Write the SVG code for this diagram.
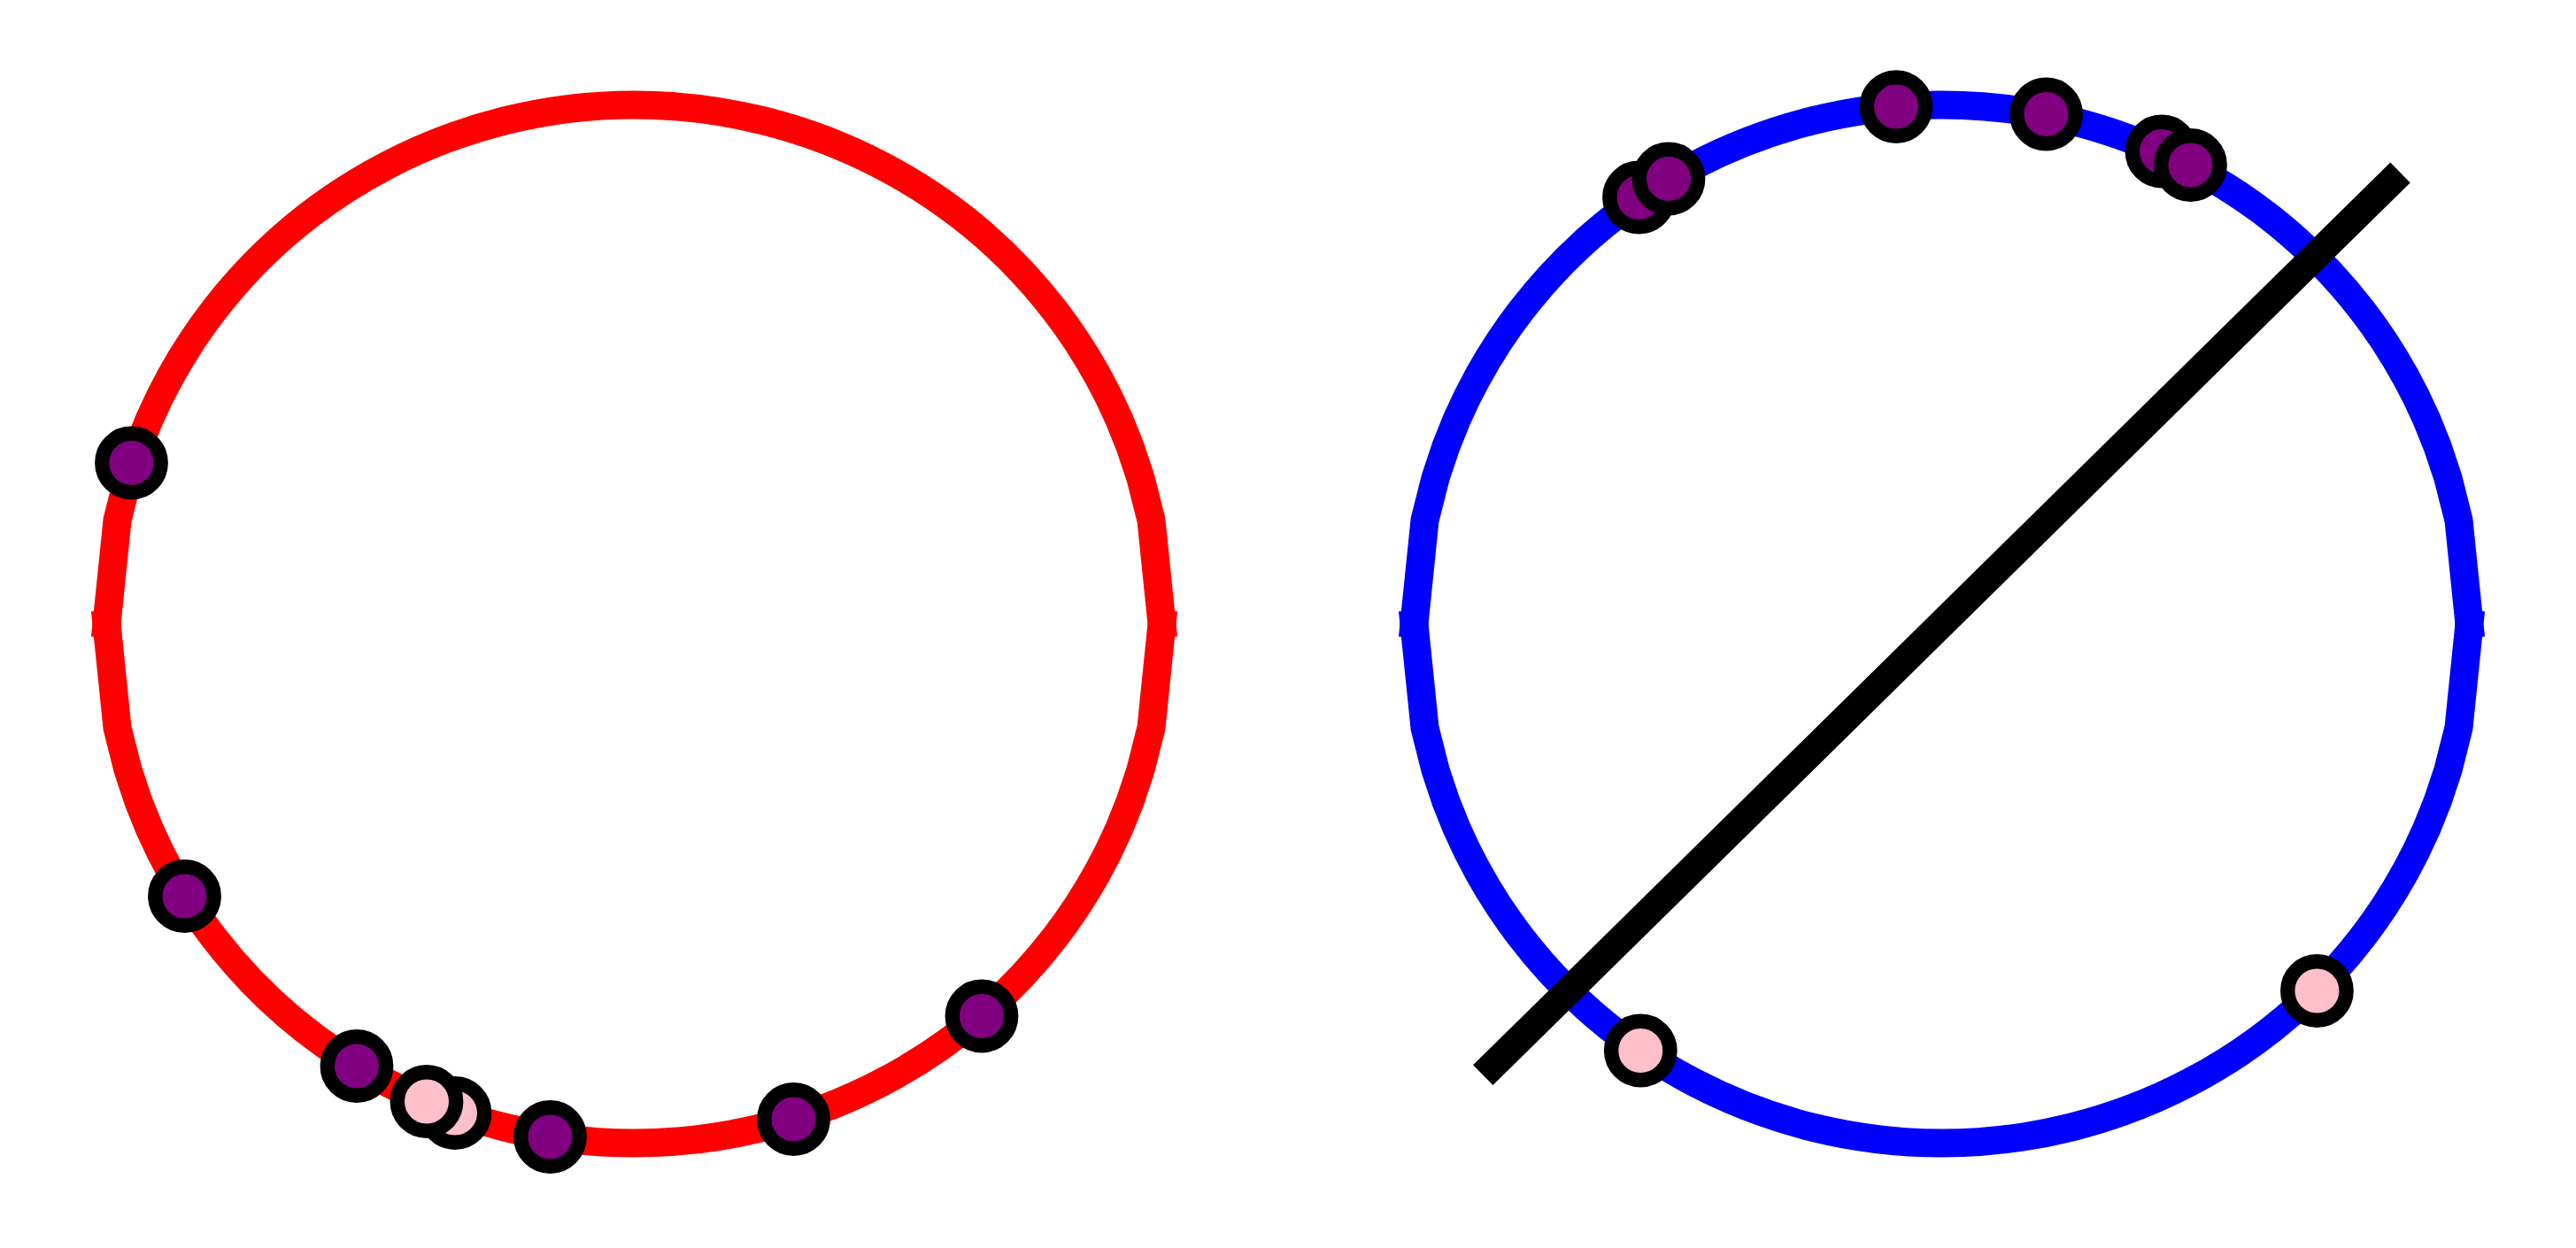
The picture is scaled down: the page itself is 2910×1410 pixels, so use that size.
<svg xmlns="http://www.w3.org/2000/svg" width="2910" height="1410" viewBox="0 0 2910 1410">
<style>
.arc{fill:none;stroke-width:32;stroke-linecap:square;stroke-linejoin:round}
.red{stroke:#FF0000}
.blue{stroke:#0000FF}
.mk{stroke:#000000;stroke-width:16.4}
.pu{fill:#800080}
.pk{fill:#FFC0CB}
.bar{stroke:#000000;stroke-width:32;stroke-linecap:butt;fill:none}
</style>
<defs>
<path id="upper" d="M -596 0 L -583.96 -117.29 L -571.92 -165.03 L -559.88 -201.08 L -547.84 -230.97 L -535.8 -256.87 L -523.76 -279.89 L -511.72 -300.68 L -499.68 -319.69 L -487.64 -337.22 L -475.6 -353.47 A 596 586.5 0 0 1 475.6 -353.47 L 487.64 -337.22 L 499.68 -319.69 L 511.72 -300.68 L 523.76 -279.89 L 535.8 -256.87 L 547.84 -230.97 L 559.88 -201.08 L 571.92 -165.03 L 583.96 -117.29 L 596 0"/>
<path id="lower" d="M -596 0 L -583.96 117.29 L -571.92 165.03 L -559.88 201.08 L -547.84 230.97 L -535.8 256.87 L -523.76 279.89 L -511.72 300.68 L -499.68 319.69 L -487.64 337.22 L -475.6 353.47 A 596 586.5 0 0 0 475.6 353.47 L 487.64 337.22 L 499.68 319.69 L 511.72 300.68 L 523.76 279.89 L 535.8 256.87 L 547.84 230.97 L 559.88 201.08 L 571.92 165.03 L 583.96 117.29 L 596 0"/>
</defs>
<rect x="0" y="0" width="2910" height="1410" fill="#FFFFFF"/>
<g id="connectors">
<g id="left-curve" transform="translate(716.5 705)">
<use href="#upper" class="arc red"/>
<use href="#lower" class="arc red"/>
</g>
<g id="right-curve" transform="translate(2193.5 705)">
<use href="#upper" class="arc blue"/>
<use href="#lower" class="arc blue"/>
</g>
<line id="diagonal" class="bar" x1="1675.3" y1="1214.7" x2="2711.5" y2="195"/>
</g>
<g id="left-points">
<g id="L1"><circle class="mk pu" cx="148.5" cy="523" r="33.2"/></g>
<g id="L2"><circle class="mk pu" cx="208.5" cy="1012.5" r="33.2"/></g>
<g id="L3"><circle class="mk pu" cx="403" cy="1204.5" r="33.2"/></g>
<g id="L4"><circle class="mk pk" cx="514" cy="1257.5" r="33.2"/></g>
<g id="L5"><circle class="mk pk" cx="482" cy="1244.5" r="33.2"/></g>
<g id="L6"><circle class="mk pu" cx="621.5" cy="1284.5" r="33.2"/></g>
<g id="L7"><circle class="mk pu" cx="896.5" cy="1264.5" r="33.2"/></g>
<g id="L8"><circle class="mk pu" cx="1109" cy="1148" r="33.2"/></g>
</g>
<g id="right-points">
<g id="R1"><circle class="mk pu" cx="1851.5" cy="223" r="33.2"/></g>
<g id="R2"><circle class="mk pu" cx="1885" cy="202" r="33.2"/></g>
<g id="R3"><circle class="mk pu" cx="2142" cy="120.6" r="33.2"/></g>
<g id="R4"><circle class="mk pu" cx="2311.5" cy="129" r="33.2"/></g>
<g id="R5"><circle class="mk pu" cx="2442" cy="171" r="33.2"/></g>
<g id="R6"><circle class="mk pu" cx="2474.5" cy="186.5" r="33.2"/></g>
<g id="R7"><circle class="mk pk" cx="2617.4" cy="1119.5" r="33.2"/></g>
<g id="R8"><circle class="mk pk" cx="1853.3" cy="1187" r="33.2"/></g>
</g>
</svg>
